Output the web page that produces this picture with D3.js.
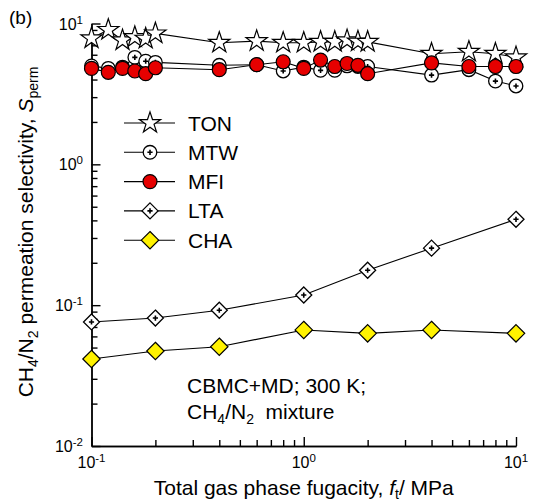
<!DOCTYPE html>
<html>
<head>
<meta charset="utf-8">
<script src="https://cdn.jsdelivr.net/npm/d3@7"></script>
<style>
  body { margin: 0; background: #fff; }
  svg { display: block; font-family: "Liberation Sans", Arial, sans-serif; }
</style>
</head>
<body>
<div class="chart"></div>
<script>
// chart size
const w = 534
const h = 503

// fugacities (MPa) for the channel zeolites
const fugHigh = [0.1, 0.12, 0.14, 0.16, 0.18, 0.2, 0.4, 0.6, 0.8, 1, 1.2, 1.4, 1.6, 1.8, 2, 4, 6, 8, 10]
const ton = [7.85, 9.0, 7.6, 8.0, 7.8, 8.5, 7.3, 7.5, 7.3, 7.3, 7.4, 7.4, 7.6, 7.45, 7.4, 6.1, 6.3, 6.1, 5.75]
const mtw = [5.0, 4.8, 4.9, 5.75, 5.4, 5.3, 5.05, 5.1, 4.6, 4.9, 4.65, 4.65, 5.0, 4.95, 4.95, 4.3, 4.7, 3.9, 3.6]
const mfi = [4.8, 4.5, 4.8, 4.6, 4.4, 4.85, 4.7, 5.1, 5.35, 4.8, 5.5, 4.95, 5.2, 5.05, 4.4, 5.25, 4.95, 4.95, 4.95]

// fugacities (MPa) for the cage-type zeolites
const fugLow = [0.1, 0.2, 0.4, 1, 2, 4, 10]
const lta = [0.076, 0.081, 0.092, 0.118, 0.177, 0.254, 0.407]
const cha = [0.0415, 0.0473, 0.0507, 0.0667, 0.0631, 0.0667, 0.0631]

const seriesNames = ["TON", "MTW", "MFI", "LTA", "CHA"]
const xExponents = [-1, 0, 1]
const yExponents = [-2, -1, 0, 1]

const series = [
  {name: "TON", x: fugHigh, y: ton},
  {name: "MTW", x: fugHigh, y: mtw},
  {name: "MFI", x: fugHigh, y: mfi},
  {name: "LTA", x: fugLow, y: lta},
  {name: "CHA", x: fugLow, y: cha}
]

const svg = d3.select(".chart")
  .append("svg")
    .attr("width", w)
    .attr("height", h)

// log scales
const x = d3.scaleLog().domain([0.1, 10]).range([91.5, 516])
const y = d3.scaleLog().domain([0.01, 10]).range([446, 23.5])

// minor ticks 2..9 in every decade
const minorX = d3.range(-1, 1).flatMap(e => d3.range(2, 10).map(m => m * Math.pow(10, e)))
const minorY = d3.range(-2, 1).flatMap(e => d3.range(2, 10).map(m => m * Math.pow(10, e)))

const axisStyle = g => {
  g.selectAll("path, line").attr("stroke", "#000").attr("stroke-width", 1.4)
  g.selectAll("text").remove()
}

svg.append("g")
  .attr("transform", `translate(0,${y.range()[0]})`)
  .call(d3.axisBottom(x).tickValues(minorX).tickSize(-6).tickSizeOuter(0).tickFormat(""))
  .call(axisStyle)
svg.append("g")
  .attr("transform", `translate(0,${y.range()[0]})`)
  .call(d3.axisBottom(x).tickValues(xExponents.map(e => Math.pow(10, e))).tickSize(-9).tickSizeOuter(0).tickFormat(""))
  .call(axisStyle)
svg.append("g")
  .attr("transform", `translate(${x.range()[0]},0)`)
  .call(d3.axisLeft(y).tickValues(minorY).tickSize(-6).tickSizeOuter(0).tickFormat(""))
  .call(axisStyle)
svg.append("g")
  .attr("transform", `translate(${x.range()[0]},0)`)
  .call(d3.axisLeft(y).tickValues(yExponents.map(e => Math.pow(10, e))).tickSize(-9).tickSizeOuter(0).tickFormat(""))
  .call(axisStyle)

// power-of-ten tick labels
const powLabel = (sel, e) => {
  sel.append("tspan").text("10")
  sel.append("tspan").attr("dy", -6).attr("font-size", 11.5).text(e)
}
xExponents.forEach(e => {
  svg.append("text")
    .attr("x", x(Math.pow(10, e)))
    .attr("y", 468)
    .attr("text-anchor", "middle")
    .attr("font-size", 16)
    .call(powLabel, e)
})
yExponents.forEach(e => {
  svg.append("text")
    .attr("x", 83)
    .attr("y", y(Math.pow(10, e)) + 6)
    .attr("text-anchor", "end")
    .attr("font-size", 16)
    .call(powLabel, e)
})

// axis titles
const xt = svg.append("text")
  .attr("x", (x.range()[0] + x.range()[1]) / 2)
  .attr("y", 495)
  .attr("text-anchor", "middle")
  .attr("font-size", 21)
xt.append("tspan").text("Total gas phase fugacity, ")
xt.append("tspan").attr("font-style", "italic").text("f")
xt.append("tspan").attr("font-size", 14).attr("dy", 4).text("t")
xt.append("tspan").attr("dy", -4).text("/ MPa")

const yt = svg.append("text")
  .attr("transform", "translate(33,232) rotate(-90)")
  .attr("text-anchor", "middle")
  .attr("font-size", 21)
yt.append("tspan").text("CH")
yt.append("tspan").attr("font-size", 14).attr("dy", 5).text("4")
yt.append("tspan").attr("dy", -5).text("/N")
yt.append("tspan").attr("font-size", 14).attr("dy", 5).text("2")
yt.append("tspan").attr("dy", -5).text(" permeation selectivity, ")
yt.append("tspan").attr("font-style", "italic").text("S")
yt.append("tspan").attr("font-size", 14).attr("dy", 5).text("perm")

svg.append("text")
  .attr("x", 9)
  .attr("y", 24)
  .attr("font-size", 19)
  .text("(b)")

// annotation
svg.append("text")
  .attr("x", 187)
  .attr("y", 393)
  .attr("font-size", 21)
  .text("CBMC+MD; 300 K;")
const ann = svg.append("text")
  .attr("x", 187)
  .attr("y", 419)
  .attr("font-size", 21)
  .attr("xml:space", "preserve")
ann.append("tspan").text("CH")
ann.append("tspan").attr("font-size", 14).attr("dy", 5).text("4")
ann.append("tspan").attr("dy", -5).text("/N")
ann.append("tspan").attr("font-size", 14).attr("dy", 5).text("2")
ann.append("tspan").attr("dy", -5).text("  mixture")

// marker shapes
const starPath = d3.symbol(d3.symbolStar, 140)()
const diamond = r => `M0,${-r}L${r},0L0,${r}L${-r},0Z`
const plus = (g) => {
  g.append("path")
    .attr("d", "M-2.6,0H2.6M0,-2.6V2.6")
    .attr("stroke", "#000")
    .attr("stroke-width", 1.6)
}
const drawMarker = (parent, name, cx, cy) => {
  const g = parent.append("g").attr("transform", `translate(${cx},${cy})`)
  if (name === "TON") {
    g.append("path").attr("d", starPath).attr("fill", "#fff").attr("stroke", "#000").attr("stroke-width", 1.2)
  } else if (name === "MTW") {
    g.append("circle").attr("r", 6.8).attr("fill", "#fff").attr("stroke", "#000").attr("stroke-width", 1.3)
    plus(g)
  } else if (name === "MFI") {
    g.append("circle").attr("r", 7).attr("fill", "#e60000").attr("stroke", "#000").attr("stroke-width", 1.2)
  } else if (name === "LTA") {
    g.append("path").attr("d", diamond(8)).attr("fill", "#fff").attr("stroke", "#000").attr("stroke-width", 1.3)
    plus(g)
  } else {
    g.append("path").attr("d", diamond(8.7)).attr("fill", "#fff200").attr("stroke", "#000").attr("stroke-width", 1.2)
  }
}

// lines first, then markers
const line = d3.line().x(d => x(d[0])).y(d => y(d[1]))
series.forEach(s => {
  svg.append("path")
    .datum(d3.zip(s.x, s.y))
    .attr("d", line)
    .attr("fill", "none")
    .attr("stroke", "#000")
    .attr("stroke-width", 1.1)
})
series.forEach(s => {
  const g = svg.append("g").attr("class", s.name)
  d3.zip(s.x, s.y).forEach(d => drawMarker(g, s.name, x(d[0]), y(d[1])))
})

// legend
const legend = svg.append("g")
seriesNames.forEach((name, i) => {
  const ly = 123 + i * 29.3
  legend.append("line")
    .attr("x1", 124).attr("x2", 175)
    .attr("y1", ly).attr("y2", ly)
    .attr("stroke", "#000").attr("stroke-width", 1.1)
  drawMarker(legend, name, 150, ly)
  legend.append("text")
    .attr("x", 188)
    .attr("y", ly + 7.5)
    .attr("font-size", 21)
    .text(name)
})
</script>
</body>
</html>
